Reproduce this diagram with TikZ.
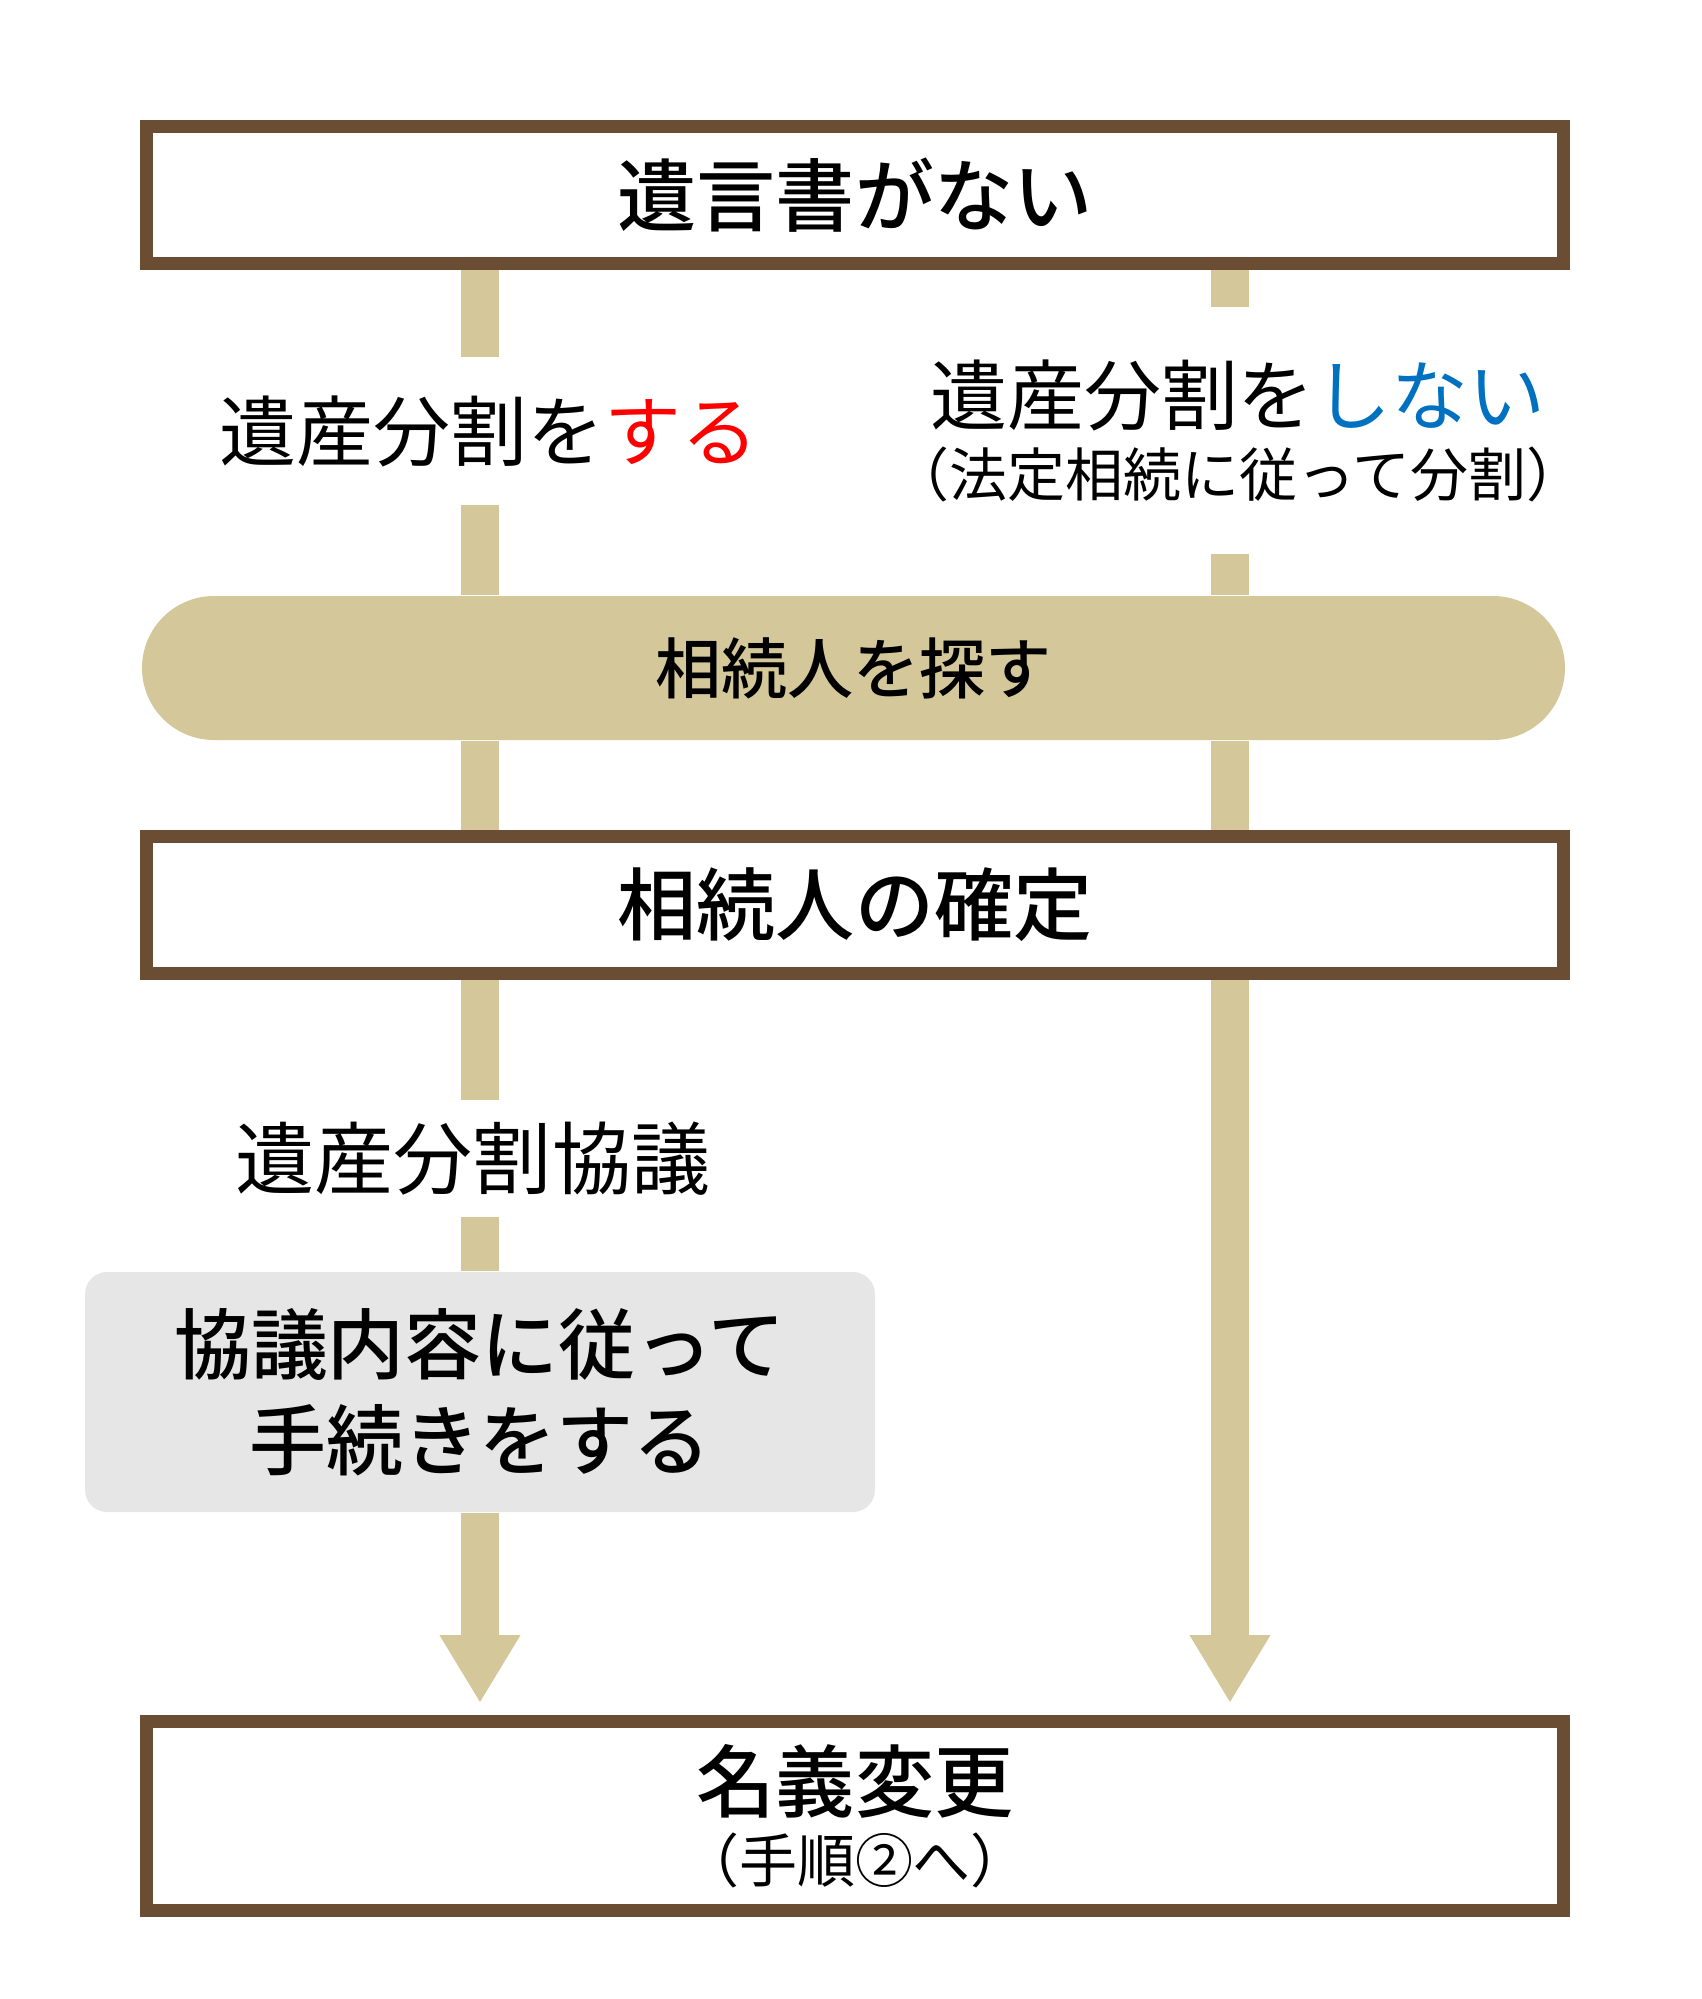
\documentclass[tikz,border=0pt]{standalone}
\usepackage{fontspec}
\setmainfont{Noto Sans CJK JP}[BoldFont={Noto Sans CJK JP Medium}]
\usepackage{tikz}
\usetikzlibrary{arrows.meta}
\definecolor{bark}{RGB}{107,77,51}
\definecolor{sand}{RGB}{212,200,155}
\definecolor{mist}{RGB}{230,230,230}
\definecolor{stopred}{RGB}{255,0,0}
\definecolor{goblue}{RGB}{0,112,192}

\begin{document}
\begin{tikzpicture}[y=-1cm,
    stepbox/.style={draw=bark, line width=3.7pt, fill=white, minimum width=14.17cm, minimum height=1.37cm, inner sep=0pt, align=center},
    branch/.style={inner sep=0pt, align=center},
    conn/.style={draw=sand, line width=10.8pt},
    connarrow/.style={conn, -{Triangle[width=7.6mm,length=6.8mm]}, shorten >=1.2mm}]
    \useasboundingbox (0,0) rectangle (17.02,19.99);
    \coordinate (L) at (4.8,0); %left column
    \coordinate (R) at (12.3,0); %right column
    \node[stepbox, font=\bfseries\fontsize{22.5}{27}\selectfont] (top) at (8.55,1.95) {遺言書がない};
    \node[branch, minimum height=1.46cm, font=\fontsize{21.9}{26}\selectfont] (yesL) at (4.89,4.31) {遺産分割を\textcolor{stopred}{する}};
    \node[branch, minimum height=2.45cm, font=\fontsize{21.9}{20.5}\selectfont] (noR) at (12.38,4.305)
        {遺産分割を\textcolor{goblue}{しない}\\{\fontsize{16.5}{20.5}\selectfont （法定相続に従って分割）}};
    \node[fill=sand, rounded corners=0.72cm, minimum width=14.23cm, minimum height=1.44cm, inner sep=0pt,
        font=\bfseries\fontsize{18.8}{22}\selectfont] (pill) at (8.535,6.68) {相続人を探す};
    \node[stepbox, font=\bfseries\fontsize{22.5}{27}\selectfont] (confirm) at (8.55,9.05) {相続人の確定};
    \node[branch, minimum height=1.15cm, font=\fontsize{22.5}{26}\selectfont] (kyogi) at (4.73,11.585) {遺産分割協議};
    \node[fill=mist, rounded corners=0.22cm, minimum width=7.9cm, minimum height=2.4cm, inner sep=0pt, align=center,
        font=\bfseries\fontsize{21.9}{27.3}\selectfont] (proc) at (4.8,13.92) {協議内容に従って\\手続きをする};
    \node[stepbox, minimum height=1.89cm, font=\bfseries\fontsize{22.5}{20.2}\selectfont] (rename) at (8.55,18.16)
        {名義変更\\{\mdseries\fontsize{16.5}{20.2}\selectfont （手順②へ）}};
    % left column
    \draw[conn] (top.south -| L) -- (yesL.north -| L);
    \draw[conn] (yesL.south -| L) -- (pill.north -| L);
    \draw[conn] (pill.south -| L) -- (confirm.north -| L);
    \draw[conn] (confirm.south -| L) -- (kyogi.north -| L);
    \draw[conn] (kyogi.south -| L) -- (proc.north -| L);
    \draw[connarrow] (proc.south -| L) -- (rename.north -| L);
    % right column
    \draw[conn] (top.south -| R) -- (noR.north -| R);
    \draw[conn] (noR.south -| R) -- (pill.north -| R);
    \draw[conn] (pill.south -| R) -- (confirm.north -| R);
    \draw[connarrow] (confirm.south -| R) -- (rename.north -| R);
\end{tikzpicture}
\end{document}
